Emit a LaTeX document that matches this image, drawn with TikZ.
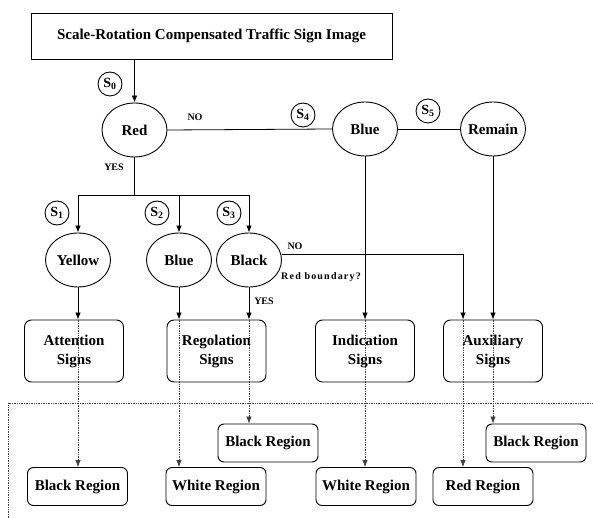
\documentclass[tikz,border=0pt]{standalone}
\usepackage{fontspec}
\setmainfont{Liberation Serif}
\usetikzlibrary{shapes.geometric,arrows.meta}
\begin{document}
\begin{tikzpicture}[x=1pt,y=-1pt,
  every node/.style={font=\bfseries\fontsize{15}{19}\selectfont, inner sep=0pt},
  topbox/.style={draw, line width=0.9pt, minimum width=361pt, minimum height=46pt},
  ell/.style={draw, line width=0.9pt, ellipse, minimum width=65pt, minimum height=54pt},
  sbox/.style={draw, line width=0.9pt, rounded corners=7pt, minimum width=99pt, minimum height=62pt, align=center},
  rbox/.style={draw, line width=0.9pt, rounded corners=6pt, minimum width=100pt, minimum height=38pt},
  slab/.style={draw, line width=0.9pt, circle, minimum size=24pt, font=\bfseries\fontsize{14}{14}\selectfont},
  small/.style={font=\bfseries\fontsize{10}{10}\selectfont},
  arr/.style={-{Latex[length=7pt,width=5.5pt]}, line width=0.8pt},
  ln/.style={line width=0.8pt},
  dotl/.style={densely dotted, line width=0.7pt, black!75},
  dotarr/.style={dotl, -{Latex[length=7pt,width=5.5pt]}},
]
\useasboundingbox (0,0) rectangle (593,518);

% main nodes
\node[topbox] (top) at (211.5,36) {Scale-Rotation Compensated Traffic Sign Image};
\node[ell,label=center:Red] (red) at (134.5,130) {};
\node[ell,label=center:Blue] (blu) at (365,129) {};
\node[ell,label=center:Remain] (rem) at (493,129) {};
\node[ell,label=center:Yellow] (yel) at (78,260) {};
\node[ell,label=center:Blue] (blu2) at (179,260) {};
\node[ell,label=center:Black] (blk) at (249,260) {};

\node[sbox] (att) at (74,351) {Attention\\Signs};
\node[sbox] (reg) at (216.5,351) {Regolation\\Signs};
\node[sbox] (ind) at (365,351) {Indication\\Signs};
\node[sbox] (aux) at (493,351) {Auxiliary\\Signs};

\node[rbox] (br1) at (77.5,486.5) {Black Region};
\node[rbox] (wr1) at (216,486.5) {White Region};
\node[rbox] (br2) at (268,443) {Black Region};
\node[rbox] (wr2) at (366,486.5) {White Region};
\node[rbox] (rr) at (483,486.5) {Red Region};
\node[rbox] (br3) at (536,443) {Black Region};

% step labels
\node[slab] (s0) at (110,84) {S\textsubscript{0}};
\node[slab] (s4) at (303,115) {S\textsubscript{4}};
\node[slab] (s5) at (428,111) {S\textsubscript{5}};
\node[slab] (s1) at (57,213) {S\textsubscript{1}};
\node[slab] (s2) at (157,213) {S\textsubscript{2}};
\node[slab] (s3) at (229,213) {S\textsubscript{3}};

% text labels
\node[small] (no1) at (195,117) {NO};
\node[small] (yes1) at (114,167) {YES};
\node[small] (no2) at (295,246) {NO};
\node[small] (yes2) at (264,301) {YES};
\node[small] (rb) at (321,277) {\addfontfeatures{LetterSpace=12}Red boundary?};

% solid connectors
\coordinate (bar) at (134.5,195);
\coordinate (nk) at (463,254);
\draw[arr] (top.south -| red) -- (red.north);
\draw[ln] (red.east) -- (blu.west);
\draw[ln] (blu.east) -- (rem.west);
\draw[ln] (red.south) -- (bar);
\draw[ln] (bar -| yel) -- (bar -| blk);
\draw[arr] (bar -| yel) -- (yel.north);
\draw[arr] (bar -| blu2) -- (blu2.north);
\draw[arr] (bar -| blk) -- (blk.north);
\draw[arr] (yel.south) -- (yel.south |- att.north);
\draw[arr] (blu2.south) -- (blu2.south |- reg.north);
\draw[arr] (blk.south) -- (blk.south |- reg.north);
\draw[arr] (blu.south) -- (blu.south |- ind.north);
\draw[arr] (rem.south) -- (rem.south |- aux.north);
\draw[arr] (blk.east |- nk) -- (nk) -- (nk |- aux.north);

% dotted separators and connectors
\coordinate (dl) at (8,403);
\coordinate (dr) at (593,403);
\coordinate (db) at (8,518);
\draw[dotl] (db) -- (dl) -- (dr);
\draw[dotarr] (yel.south |- att.north) -- (yel.south |- br1.north);
\draw[dotarr] (blu2.south |- reg.north) -- (blu2.south |- wr1.north);
\draw[dotarr] (blk.south |- reg.north) -- (blk.south |- br2.north);
\draw[dotarr] (blu.south |- ind.north) -- (blu.south |- wr2.north);
\draw[dotarr] (nk |- aux.north) -- (nk |- rr.north);
\draw[dotarr] (rem.south |- aux.north) -- (rem.south |- br3.north);
\end{tikzpicture}
\end{document}
